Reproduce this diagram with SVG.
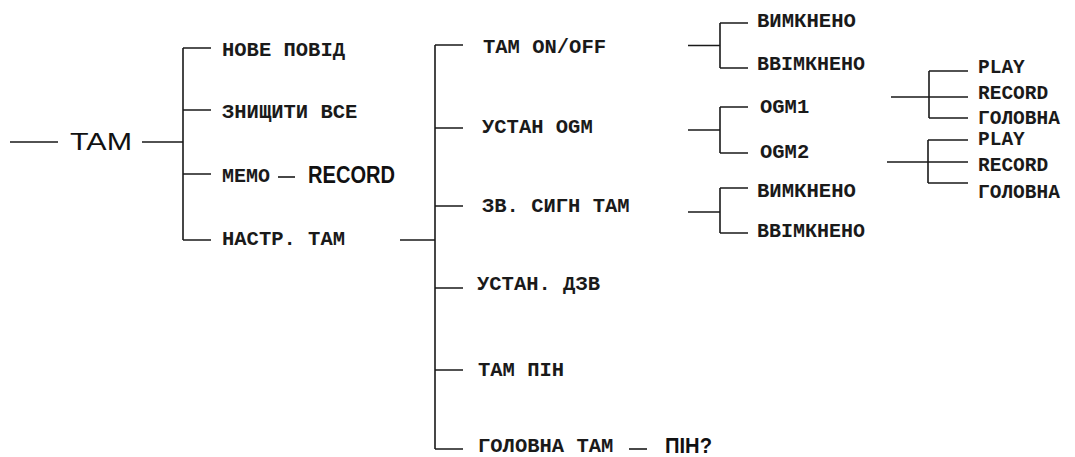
<svg xmlns="http://www.w3.org/2000/svg" width="1075" height="457" viewBox="0 0 1075 457">
<style>
.ln{stroke:#1a1a1a;stroke-width:1.6;fill:none}
.m{font-family:"Liberation Mono","DejaVu Sans Mono",monospace;font-size:20.5px;font-weight:bold;fill:#1a1a1a}
.r{font-family:"Liberation Mono","DejaVu Sans Mono",monospace;font-size:19.5px;font-weight:bold;fill:#1a1a1a}
.s{font-family:"Liberation Sans",Arial,sans-serif;fill:#111}
</style>
<rect width="1075" height="457" fill="#fff"/>
<g id="connectors">
<path class="ln" d="M10 142H58M142 142H183M183 48V240M183 48H211M183 110H211M183 174H211M183 240H211"/>
<path class="ln" d="M278 177H295"/>
<path class="ln" d="M400 240H435M435 45V449M435 45H463M435 128H463M435 206H463M435 288H463M435 370H463M435 449H463"/>
<path class="ln" d="M629 449H647"/>
<path class="ln" d="M688 45.5H720M720 23V68M720 23H748M720 68H748"/>
<path class="ln" d="M688 130H720M720 107V153M720 107H748M720 153H748"/>
<path class="ln" d="M688 212H720M720 188V233M720 188H748M720 233H748"/>
<path class="ln" d="M891 97H968M929 71V118M929 71H968M929 118H968"/>
<path class="ln" d="M887 162H968M928 140V183M928 140H968M928 183H968"/>
</g>
<g id="n-tam"><text class="s" x="70" y="149.5" font-size="24.5" textLength="62" lengthAdjust="spacingAndGlyphs">TAM</text></g>
<g id="n-nove"><text class="m" x="222" y="56">НОВЕ ПОВІД</text></g>
<g id="n-znyshchyty"><text class="m" x="222" y="117.5">ЗНИЩИТИ ВСЕ</text></g>
<g id="n-memo"><text class="m" x="222" y="182" textLength="48" lengthAdjust="spacingAndGlyphs">MEMO</text></g>
<g id="n-memo-record"><text class="s" x="308" y="182.5" font-size="23.5" font-weight="bold" textLength="87" lengthAdjust="spacingAndGlyphs">RECORD</text></g>
<g id="n-nastr"><text class="m" x="222" y="245">НАСТР. ТАМ</text></g>
<g id="n-onoff"><text class="m" x="483" y="52.5">ТАМ ON/OFF</text></g>
<g id="n-ogm"><text class="m" x="482" y="133">УСТАН OGM</text></g>
<g id="n-zvsygn"><text class="m" x="482" y="211.5">ЗВ. СИГН ТАМ</text></g>
<g id="n-dzv"><text class="m" x="477" y="290">УСТАН. ДЗВ</text></g>
<g id="n-pin"><text class="m" x="478" y="376">ТАМ ПІН</text></g>
<g id="n-golovna-tam"><text class="m" x="478" y="451.5">ГОЛОВНА ТАМ</text></g>
<g id="n-pinq"><text class="s" x="665" y="453" font-size="22" font-weight="bold" textLength="47" lengthAdjust="spacingAndGlyphs">ПІН?</text></g>
<g id="n-off1"><text class="m" x="757" y="27" textLength="99" lengthAdjust="spacingAndGlyphs">ВИМКНЕНО</text></g>
<g id="n-on1"><text class="m" x="757" y="69.5" textLength="108" lengthAdjust="spacingAndGlyphs">ВВІМКНЕНО</text></g>
<g id="n-ogm1"><text class="m" x="760" y="113">OGM1</text></g>
<g id="n-ogm2"><text class="m" x="760" y="158">OGM2</text></g>
<g id="n-off2"><text class="m" x="757" y="196.5" textLength="99" lengthAdjust="spacingAndGlyphs">ВИМКНЕНО</text></g>
<g id="n-on2"><text class="m" x="757" y="236.5" textLength="108" lengthAdjust="spacingAndGlyphs">ВВІМКНЕНО</text></g>
<g id="n-play1"><text class="r" x="978" y="72.5">PLAY</text></g>
<g id="n-rec1"><text class="r" x="978" y="98.5">RECORD</text></g>
<g id="n-gol1"><text class="r" x="978" y="123.5">ГОЛОВНА</text></g>
<g id="n-play2"><text class="r" x="978" y="145">PLAY</text></g>
<g id="n-rec2"><text class="r" x="978" y="170.5">RECORD</text></g>
<g id="n-gol2"><text class="r" x="978" y="198">ГОЛОВНА</text></g>
</svg>
